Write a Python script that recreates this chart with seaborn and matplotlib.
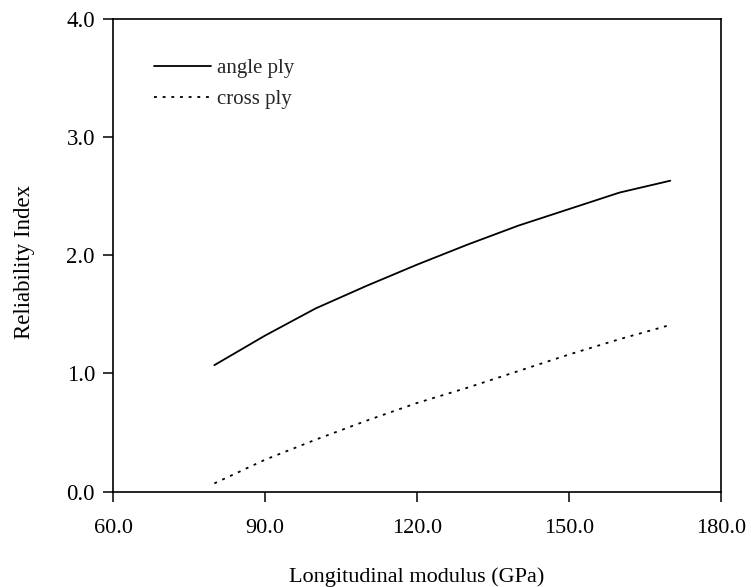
import matplotlib
matplotlib.use("Agg")
import matplotlib.pyplot as plt
import seaborn as sns
import pandas as pd

# Longitudinal modulus (GPa)
modulus = [80, 90, 100, 110, 120, 130, 140, 150, 160, 170]
# Reliability index for each laminate layup
angle_ply = [1.07, 1.32, 1.55, 1.74, 1.92, 2.09, 2.25, 2.39, 2.53, 2.63]
cross_ply = [0.07, 0.27, 0.44, 0.60, 0.75, 0.88, 1.02, 1.16, 1.29, 1.41]
series_names = ["angle ply", "cross ply"]
x_ticks = [60.0, 90.0, 120.0, 150.0, 180.0]
y_ticks = [0.0, 1.0, 2.0, 3.0, 4.0]

df = pd.DataFrame({
    "modulus": modulus * 2,
    "beta": angle_ply + cross_ply,
    "layup": [series_names[0]] * len(modulus) + [series_names[1]] * len(modulus),
})

sns.set_theme(style="white")
plt.rcParams["font.family"] = ["Liberation Serif", "DejaVu Serif"]

fig = plt.figure(figsize=(7.51, 5.87), dpi=100)
ax = fig.add_axes([0.1505, 0.1624, 0.8095, 0.8057])

sns.lineplot(data=df, x="modulus", y="beta", style="layup",
             dashes={series_names[0]: "", series_names[1]: (1.6, 3.2)},
             color="black", linewidth=1.3, ax=ax)

ax.set_xlim(60, 180)
ax.set_ylim(0, 4)
ax.set_xticks(x_ticks)
ax.set_yticks(y_ticks)
ax.set_xticklabels([f"{v:.1f}" for v in x_ticks])
ax.set_yticklabels([f"{v:.1f}" for v in y_ticks])

for s in ax.spines.values():
    s.set_color("black")
    s.set_linewidth(1.2)

ax.tick_params(axis="both", which="major", direction="out", length=7, width=1.1,
               color="black", labelsize=16, labelcolor="black",
               bottom=True, left=True)
ax.tick_params(axis="x", pad=13)
ax.tick_params(axis="y", pad=6, labelsize=16.5)

ax.set_xlabel("Longitudinal modulus (GPa)", fontsize=16, color="black", labelpad=21)
ax.set_ylabel("Reliability Index", fontsize=16.5, color="black")
ax.yaxis.set_label_coords(-0.128, 0.486)

leg = ax.legend(loc="upper left", bbox_to_anchor=(0.037, 0.955), frameon=False,
                fontsize=15, handlelength=2.7, handletextpad=0.3,
                labelspacing=0.55, title=None)
for line in leg.get_lines():
    line.set_linewidth(1.3)

fig.savefig("out.png", dpi=100)
